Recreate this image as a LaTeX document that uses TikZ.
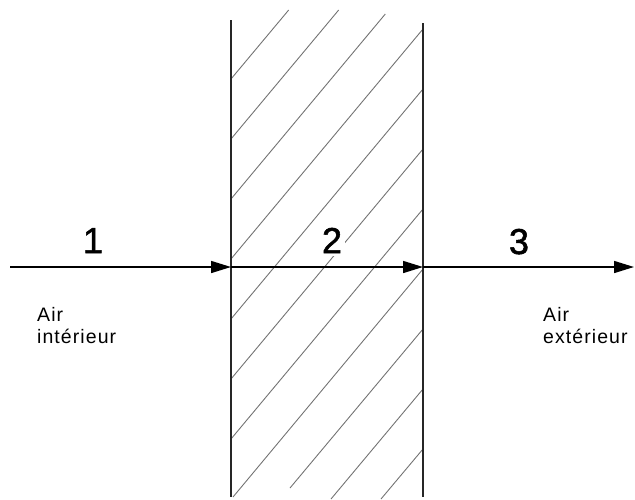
\documentclass[tikz,border=0pt]{standalone}
\usepackage{fontspec}
\setmainfont{Liberation Sans}
\newfontfamily\airfont[LetterSpace=5.5]{Liberation Sans}
\newfontfamily\numfont[FakeBold=1.5]{Liberation Sans}
\usetikzlibrary{arrows.meta}
\tikzset{
  wallline/.style={line width=2.4pt, black!85},
  hatchline/.style={line width=0.9pt, black!55},
  flowarrow/.style={line width=1.5pt, -{Triangle[length=20pt,width=12pt]}},
  numlbl/.style={inner sep=0pt, anchor=base, font=\numfont\fontsize{36}{40}\selectfont},
  airlbl/.style={inner sep=0pt, anchor=base west, font=\airfont\fontsize{19.5}{22}\selectfont}
}
\begin{document}
\begin{tikzpicture}[x=1pt,y=-1pt]
\useasboundingbox (0,0) rectangle (635,499);
% hatching (lines of slope 1.2)
\draw[hatchline] (231,79) -- (288.7,10);
\draw[hatchline] (231,139) -- (338.7,10);
\draw[hatchline] (231,199) -- (385.3,14);
\draw[hatchline] (231,259) -- (423,29);
\draw[hatchline] (231,319) -- (423,89);
\draw[hatchline] (231,379) -- (423,149);
\draw[hatchline] (231,439) -- (423,209);
\draw[hatchline] (233,497) -- (423,269);
\draw[hatchline] (290,488) -- (423,329);
\draw[hatchline] (331,499) -- (423,389);
\draw[hatchline] (381,499) -- (423,449);
% label 2 with a gap in the hatching
\node[numlbl, fill=white, inner sep=3pt] (n2) at (332,253) {2};
% walls
\coordinate (lwt) at (231,20);
\coordinate (lwb) at (231,497);
\coordinate (rwt) at (423,23);
\coordinate (rwb) at (423,497);
\draw[wallline] (lwt) -- (lwb);
\draw[wallline] (rwt) -- (rwb);
% flow arrows
\coordinate (start) at (10,267);
\coordinate (lw) at (231,267);
\coordinate (rw) at (423,267);
\coordinate (stop) at (634,267);
\draw[flowarrow] (start) -- (lw);
\draw[flowarrow] (lw) -- (rw);
\draw[flowarrow] (rw) -- (stop);
% labels
\node[numlbl] (n1) at (93,253) {1};
\node[numlbl] (n3) at (519,254) {3};
\node[airlbl] (airin) at (37,321) {Air};
\node[airlbl] (intin) at (37,343) {intérieur};
\node[airlbl] (airout) at (543,321) {Air};
\node[airlbl] (extout) at (543,343) {extérieur};
\end{tikzpicture}
\end{document}
